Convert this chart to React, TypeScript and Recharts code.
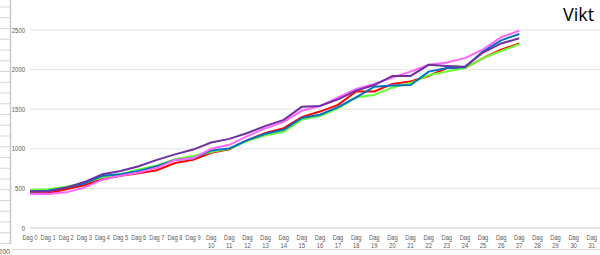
import React from "react";
import { LineChart, Line, XAxis, YAxis, CartesianGrid } from "recharts";

const days: string[] = Array.from({ length: 34 }, (_, i) => `Dag ${i}`);

const purple = [465, 460, 510, 580, 680, 720, 780, 860, 930, 990, 1080, 1125, 1200, 1290, 1365, 1530, 1540, 1625, 1735, 1805, 1920, 1920, 2060, 2045, 2035, 2215, 2330, 2395];
const blue = [460, 470, 510, 560, 660, 680, 720, 780, 860, 880, 980, 1005, 1110, 1190, 1240, 1390, 1430, 1525, 1650, 1785, 1800, 1805, 1975, 2020, 2030, 2230, 2370, 2450];
const pink = [430, 430, 450, 510, 610, 660, 700, 760, 860, 880, 1000, 1050, 1160, 1260, 1340, 1480, 1540, 1650, 1755, 1820, 1900, 1975, 2060, 2090, 2145, 2255, 2410, 2490];
const red = [440, 440, 490, 540, 620, 660, 690, 730, 820, 860, 950, 995, 1110, 1200, 1260, 1400, 1470, 1555, 1725, 1725, 1820, 1850, 1920, 2020, 2020, 2145, 2250, 2330];
const green = [480, 490, 520, 570, 640, 680, 740, 790, 870, 910, 960, 1000, 1100, 1170, 1215, 1370, 1415, 1510, 1650, 1680, 1775, 1830, 1930, 1975, 2020, 2145, 2235, 2320];

const yTicks = [0, 500, 1000, 1500, 2000, 2500];

const data = days.map((d, i) => ({
  day: d,
  purple: purple[i],
  blue: blue[i],
  pink: pink[i],
  red: red[i],
  green: green[i],
}));

const FONT = "'Liberation Sans', Arial, sans-serif";

const XTick = (props: any) => {
  const { x, y, payload } = props;
  const label: string = payload.value;
  const num = label.replace("Dag ", "");
  if (Number(num) < 10) {
    return (
      <text x={x} y={y + 4} textAnchor="middle" fontSize={7} fill="#595959" fontFamily={FONT}
        textLength={15} lengthAdjust="spacingAndGlyphs">
        {label}
      </text>
    );
  }
  return (
    <g>
      <text x={x} y={y + 4} textAnchor="middle" fontSize={7} fill="#595959" fontFamily={FONT}
        textLength={10.5} lengthAdjust="spacingAndGlyphs">Dag</text>
      <text x={x} y={y + 11.5} textAnchor="middle" fontSize={7} fill="#595959" fontFamily={FONT}
        textLength={6.5} lengthAdjust="spacingAndGlyphs">{num}</text>
    </g>
  );
};

const YTick = (props: any) => {
  const { x, y, payload } = props;
  const s = String(payload.value);
  return (
    <text x={x} y={y + 2.5} textAnchor="end" fontSize={7} fill="#595959" fontFamily={FONT}
      textLength={s.length * 3.3} lengthAdjust="spacingAndGlyphs">{s}</text>
  );
};

const rowLines = Array.from({ length: 23 }, (_, i) => 7 + i * 10.75);

export default function App() {
  return (
    <div style={{ position: "absolute", left: 0, top: 0, width: 600, height: 255, overflow: "hidden", background: "#fff" }}>
      <svg width={600} height={255} style={{ position: "absolute", left: 0, top: 0 }}>
        {rowLines.map((y, i) => (
          <line key={i} x1={0} x2={10} y1={y} y2={y} stroke="#d6d6d6" strokeWidth={1} />
        ))}
        <line x1={10.5} x2={10.5} y1={0} y2={244} stroke="#c8c8c8" strokeWidth={1.5} />
        <line x1={12} x2={600} y1={249.5} y2={249.5} stroke="#d9d9d9" strokeWidth={1} />
        <text x={10} y={254} textAnchor="end" fontSize={7} fill="#595959" fontFamily={FONT}>-200</text>
        <text x={563} y={21} fontSize={18} fill="#000" fontFamily="'Open Sans', sans-serif">Vikt</text>
      </svg>
      <div style={{ position: "absolute", left: 0, top: 0 }}>
        <LineChart width={630} height={255} data={data} margin={{ top: 30, right: 2, bottom: 0, left: 0 }}>
          <CartesianGrid vertical={false} stroke="#e3e3e3" strokeWidth={1} />
          <XAxis
            dataKey="day"
            interval={0}
            height={27}
            axisLine={{ stroke: "#d9d9d9" }}
            tickLine={false}
            tick={<XTick />}
          />
          <YAxis
            domain={[0, 2500]}
            ticks={yTicks}
            width={30}
            axisLine={false}
            tickLine={false}
            tickSize={0}
            tickMargin={5}
            tick={<YTick />}
          />
          <Line dataKey="red" stroke="#FF0000" strokeWidth={2} dot={false} isAnimationActive={false} />
          <Line dataKey="green" stroke="#66FF33" strokeWidth={2} dot={false} isAnimationActive={false} />
          <Line dataKey="blue" stroke="#0070C0" strokeWidth={2} dot={false} isAnimationActive={false} />
          <Line dataKey="pink" stroke="#FF66FF" strokeWidth={2} dot={false} isAnimationActive={false} />
          <Line dataKey="purple" stroke="#7030A0" strokeWidth={2} dot={false} isAnimationActive={false} />
        </LineChart>
      </div>
    </div>
  );
}
